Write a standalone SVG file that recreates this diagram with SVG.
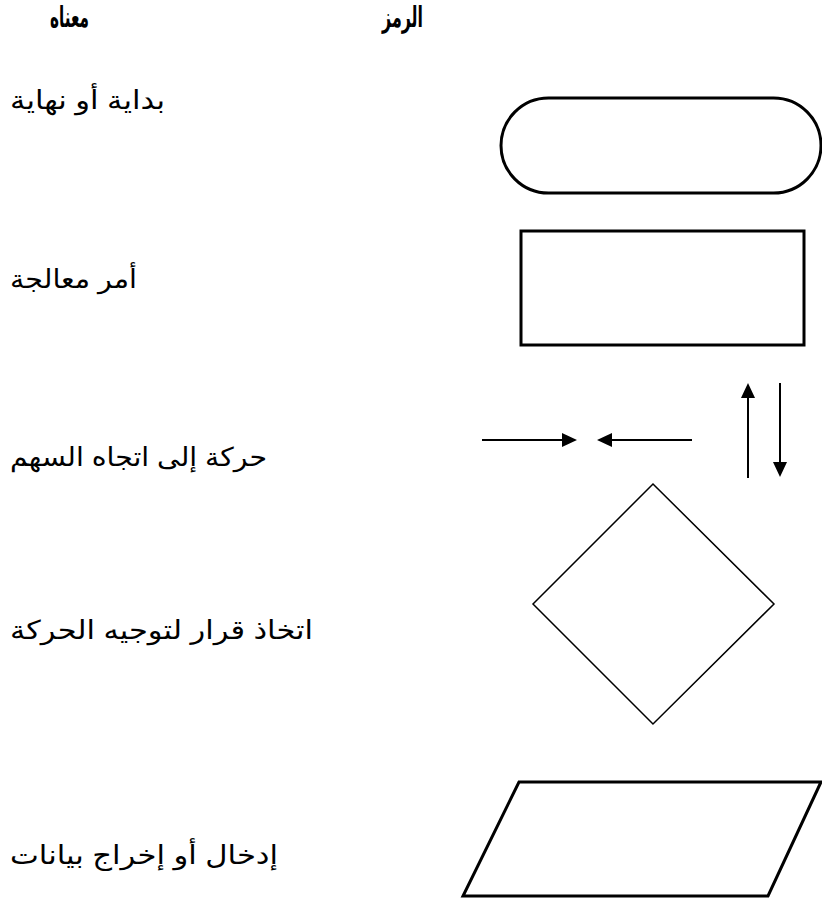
<svg xmlns="http://www.w3.org/2000/svg" width="822" height="901" viewBox="0 0 822 901">
<style>
.t{font-family:"Liberation Sans","DejaVu Sans",sans-serif;font-size:26px;fill:#000}
.h{font-family:"Liberation Serif","DejaVu Sans",serif;font-size:29px;font-weight:bold;fill:#000}
.thick{fill:#fff;stroke:#000;stroke-width:3}
.thin{fill:#fff;stroke:#000;stroke-width:1.5}
.ln{stroke:#000;stroke-width:2;fill:none}
</style>
<rect width="822" height="901" fill="#fff"/>
<g id="headers">
<text class="h" x="50" y="27" textLength="39" lengthAdjust="spacingAndGlyphs">معناه</text>
<text class="h" x="382" y="27" textLength="41" lengthAdjust="spacingAndGlyphs">الرمز</text>
</g>
<g id="terminal">
<rect class="thick" x="501" y="98" width="320" height="95" rx="47.5" ry="47.5"/>
</g>
<g id="process">
<rect class="thick" x="521" y="231" width="283" height="114"/>
</g>
<g id="decision">
<polygon class="thin" points="653,484 774,604 653,724 533,604"/>
</g>
<g id="io">
<polygon class="thick" points="519,782 821,782 768,896 463,896"/>
</g>
<g id="connectors">
<path d="M482,440 H562" class="ln"/><polygon points="562,433 577,440 562,447" fill="#000"/>
<path d="M692,440 H612" class="ln"/><polygon points="612,433 597,440 612,447" fill="#000"/>
<path d="M748,478 V398" class="ln"/><polygon points="741,398 748,383 755,398" fill="#000"/>
<path d="M780,383 V462" class="ln"/><polygon points="773,462 780,477 787,462" fill="#000"/>
</g>
<g id="labels">
<text class="t" x="10" y="109" textLength="155" lengthAdjust="spacingAndGlyphs">بداية أو نهاية</text>
<text class="t" x="10" y="288" textLength="127" lengthAdjust="spacingAndGlyphs">أمر معالجة</text>
<text class="t" x="10" y="466" textLength="257" lengthAdjust="spacingAndGlyphs">حركة إلى اتجاه السهم</text>
<text class="t" x="10" y="639" textLength="303" lengthAdjust="spacingAndGlyphs">اتخاذ قرار لتوجيه الحركة</text>
<text class="t" x="10" y="864" textLength="268" lengthAdjust="spacingAndGlyphs">إدخال أو إخراج بيانات</text>
</g>
</svg>
